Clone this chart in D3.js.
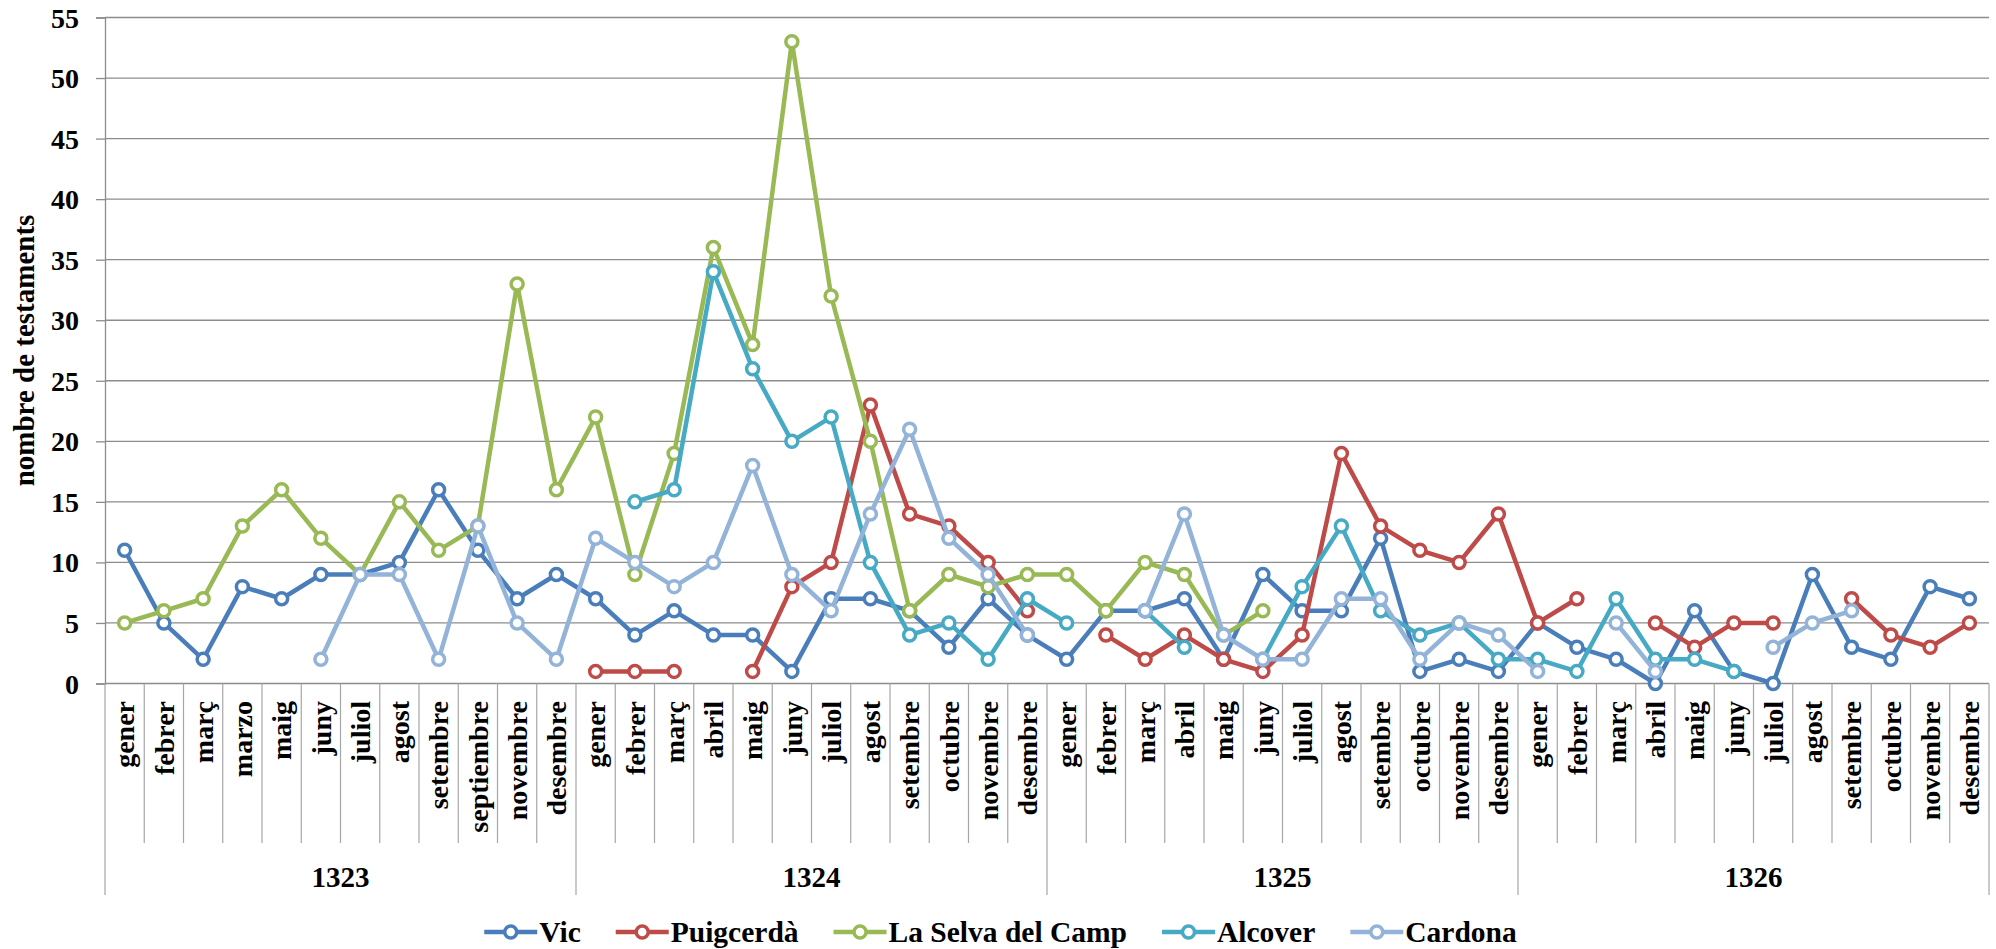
<!DOCTYPE html>
<html>
<head>
<meta charset="utf-8">
<script src="https://cdn.jsdelivr.net/npm/d3@7"></script>
<style>
  html, body { margin: 0; padding: 0; background: #ffffff; }
  svg { display: block; }
  text { font-family: "Liberation Serif", "Times New Roman", serif; font-weight: bold; fill: #000; }
</style>
</head>
<body>
<svg id="chart" width="1996" height="949"></svg>
<script>
// ---------- data ----------
const years = ["1323", "1324", "1325", "1326"];
const months1323 = ["gener", "febrer", "març", "marzo", "maig", "juny", "juliol", "agost", "setembre", "septiembre", "novembre", "desembre"];
const monthsStd = ["gener", "febrer", "març", "abril", "maig", "juny", "juliol", "agost", "setembre", "octubre", "novembre", "desembre"];
const yTicks = [0, 5, 10, 15, 20, 25, 30, 35, 40, 45, 50, 55];
const yTitle = "nombre de testaments";

const seriesNames = ["Vic", "Puigcerdà", "La Selva del Camp", "Alcover", "Cardona"];
const vic = [11,5,2,8,7,9,9,10,16,11,7,9, 7,4,6,4,4,1,7,7,6,3,7,4, 2,6,6,7,2,9,6,6,12,1,2,1, 5,3,2,0,6,1,0,9,3,2,8,7];
const puigcerda = [null,null,null,null,null,null,null,null,null,null,null,null, 1,1,1,null,1,8,10,23,14,13,10,6, null,4,2,4,2,1,4,19,13,11,10,14, 5,7,null,5,3,5,5,null,7,4,3,5];
const laSelva = [5,6,7,13,16,12,9,15,11,13,33,16, 22,9,19,36,28,53,32,20,6,9,8,9, 9,6,10,9,4,6,null,null,null,null,null,null, null,null,null,null,null,null,null,null,null,null,null,null];
const alcover = [null,null,null,null,null,null,null,null,null,null,null,null, null,15,16,34,26,20,22,10,4,5,2,7, 5,null,6,3,null,2,8,13,6,4,5,2, 2,1,7,2,2,1,null,null,null,null,null,null];
const cardona = [null,null,null,null,null,2,9,9,2,13,5,2, 12,10,8,10,18,9,6,14,21,12,9,4, null,null,6,14,4,2,2,7,7,2,5,4, 1,null,5,1,null,null,3,5,6,null,null,null];
const seriesColors = ["#4A7EBB", "#BE4B48", "#98B954", "#46AAC5", "#93B3D9"];

// ---------- build ----------
const monthLabels = years.map((y, i) => i === 0 ? months1323 : monthsStd);
const categories = [];
years.forEach((y, yi) => monthLabels[yi].forEach((m, mi) => categories.push({ idx: yi * 12 + mi, month: m, year: y })));
const allSeries = [vic, puigcerda, laSelva, alcover, cardona];

const svg = d3.select("#chart");
const W = 1996, H = 949;
const plot = { left: 105, right: 1989, top: 17.5, bottom: 683.5 };

const x = d3.scaleBand().domain(categories.map(c => c.idx)).range([plot.left, plot.right]).padding(0);
const y = d3.scaleLinear().domain([0, 55]).range([plot.bottom, plot.top]);
const cx = i => x(i) + x.bandwidth() / 2;

const gridColor = "#8c8c8c";

// gridlines
svg.append("g").selectAll("line").data(yTicks.filter(t => t > 0)).join("line")
  .attr("x1", plot.left).attr("x2", plot.right)
  .attr("y1", d => y(d)).attr("y2", d => y(d))
  .attr("stroke", gridColor).attr("stroke-width", 1.3);

// y axis
const yAxis = svg.append("g").attr("transform", `translate(${plot.left},0)`)
  .call(d3.axisLeft(y).tickValues(yTicks).tickSize(9).tickPadding(17).tickFormat(d3.format("d")));
yAxis.select(".domain").attr("stroke", gridColor).attr("stroke-width", 1.3);
yAxis.selectAll(".tick line").attr("stroke", gridColor).attr("stroke-width", 1.3);
yAxis.selectAll(".tick text")
  .style("font-family", '"Liberation Serif", "Times New Roman", serif')
  .style("font-weight", "bold").style("font-size", "28px").attr("fill", "#000")
  .attr("dy", null).attr("dominant-baseline", "central");

// x axis baseline
svg.append("line").attr("x1", plot.left).attr("x2", plot.right)
  .attr("y1", plot.bottom).attr("y2", plot.bottom)
  .attr("stroke", gridColor).attr("stroke-width", 1.3);

// category separators
const monthSepBottom = 843, yearSepBottom = 895;
const bounds = d3.range(0, 49);
svg.append("g").selectAll("line").data(bounds).join("line")
  .attr("x1", d => d === 48 ? plot.right : x(d)).attr("x2", d => d === 48 ? plot.right : x(d))
  .attr("y1", plot.bottom)
  .attr("y2", d => d % 12 === 0 ? yearSepBottom : monthSepBottom)
  .attr("stroke", "#a6a6a6").attr("stroke-width", 1.2);

// month labels
svg.append("g").selectAll("text").data(categories).join("text")
  .attr("transform", d => `translate(${cx(d.idx)},701) rotate(-90)`)
  .attr("text-anchor", "end").attr("dy", "0.35em")
  .style("font-size", "28px")
  .text(d => d.month);

// year labels
svg.append("g").selectAll("text").data(years).join("text")
  .attr("x", (d, i) => (x(i * 12) + (i === 3 ? plot.right : x(i * 12 + 12))) / 2)
  .attr("y", 877).attr("text-anchor", "middle").attr("dominant-baseline", "central")
  .style("font-size", "29px")
  .text(d => d);

// y title
svg.append("text")
  .attr("transform", `translate(24,${(plot.top + plot.bottom) / 2}) rotate(-90)`)
  .attr("text-anchor", "middle").attr("dominant-baseline", "central")
  .style("font-size", "29px")
  .text(yTitle);

// series
const line = d3.line().defined(d => d.v != null).x(d => cx(d.i)).y(d => y(d.v));
allSeries.forEach((vals, si) => {
  const pts = vals.map((v, i) => ({ i, v }));
  const g = svg.append("g");
  g.append("path").datum(pts).attr("d", line)
    .attr("fill", "none").attr("stroke", seriesColors[si]).attr("stroke-width", 4.5)
    .attr("stroke-linejoin", "round");
  g.selectAll("circle").data(pts.filter(d => d.v != null)).join("circle")
    .attr("cx", d => cx(d.i)).attr("cy", d => y(d.v)).attr("r", 6)
    .attr("fill", "#fff").attr("stroke", seriesColors[si]).attr("stroke-width", 3.5);
});

// legend
const legY = 932;
const leg = svg.append("g");
const items = seriesNames.map((name, i) => {
  const g = leg.append("g");
  g.append("line").attr("x1", 0).attr("x2", 53).attr("y1", 0).attr("y2", 0)
    .attr("stroke", seriesColors[i]).attr("stroke-width", 4.5);
  g.append("circle").attr("cx", 26.5).attr("cy", 0).attr("r", 6)
    .attr("fill", "#fff").attr("stroke", seriesColors[i]).attr("stroke-width", 3.5);
  const t = g.append("text").attr("x", 55).attr("y", 0).attr("dominant-baseline", "central")
    .style("font-size", "29.5px").text(name);
  return { g, w: 55 + t.node().getComputedTextLength() };
});
const gap = 35;
const total = d3.sum(items, d => d.w) + gap * (items.length - 1);
let lx = 1000.5 - total / 2;
items.forEach(it => { it.g.attr("transform", `translate(${lx},${legY})`); lx += it.w + gap; });
</script>
</body>
</html>
